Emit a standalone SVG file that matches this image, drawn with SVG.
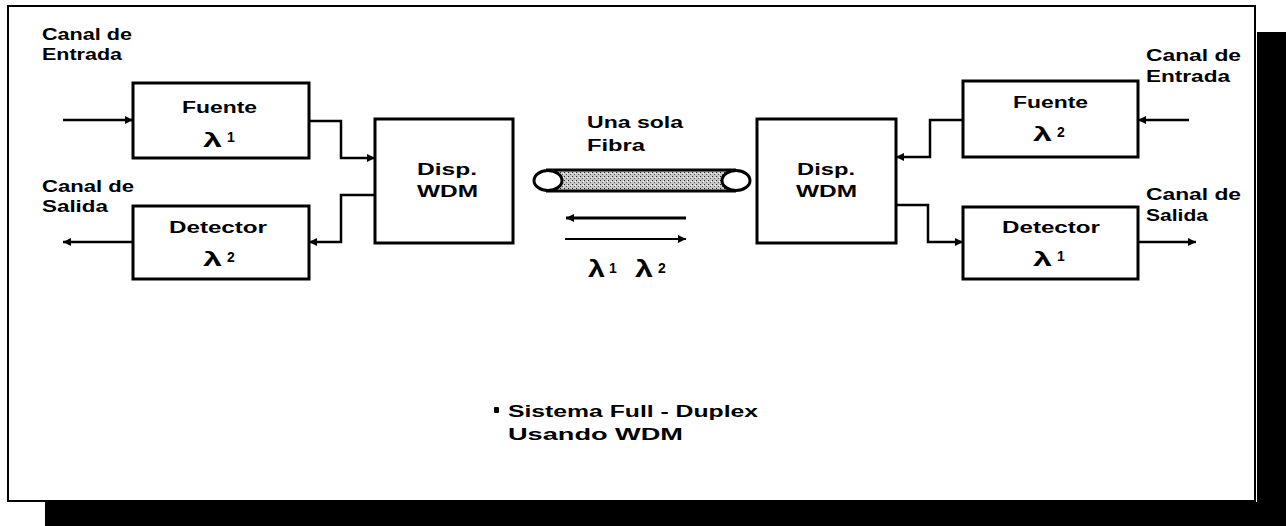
<svg xmlns="http://www.w3.org/2000/svg" width="1286" height="526" viewBox="0 0 1286 526">
<style>
.t{font-family:"Liberation Sans",Arial,sans-serif;font-weight:bold;font-size:16px;fill:#000}
.l{font-family:"Liberation Sans",Arial,sans-serif;font-weight:bold;font-size:20px;fill:#000}
.lb{font-family:"Liberation Sans",Arial,sans-serif;font-weight:bold;font-size:23px;fill:#000}
.d{font-family:"Liberation Sans",Arial,sans-serif;font-weight:bold;font-size:14px;fill:#000}
.box{fill:#fff;stroke:#000;stroke-width:3}
.c{fill:none;stroke:#000;stroke-width:2.5}
</style>
<defs>
<marker id="ah" viewBox="0 0 10 10" refX="10" refY="5" markerWidth="9" markerHeight="8" markerUnits="userSpaceOnUse" orient="auto">
<path d="M0,0 L10,5 L0,10 z" fill="#000"/>
</marker>
<pattern id="stip" width="4" height="4" patternUnits="userSpaceOnUse">
<rect width="4" height="4" fill="#c8c8c8"/>
<rect x="0" y="0" width="1" height="1" fill="#222"/>
<rect x="2" y="2" width="1" height="1" fill="#555"/>
<rect x="3" y="1" width="1" height="1" fill="#fff"/>
</pattern>
</defs>
<rect width="1286" height="526" fill="#fff"/>
<path d="M1257,32 H1286 V526 H45 V502 H1257 Z" fill="#000"/>
<rect x="8" y="6" width="1247" height="495" fill="#fff" stroke="#000" stroke-width="2"/>

<g id="labels">
<text class="t" x="42" y="40" textLength="90" lengthAdjust="spacingAndGlyphs">Canal de</text>
<text class="t" x="42" y="60" textLength="80" lengthAdjust="spacingAndGlyphs">Entrada</text>
<text class="t" x="42" y="192" textLength="92" lengthAdjust="spacingAndGlyphs">Canal de</text>
<text class="t" x="42" y="212" textLength="66" lengthAdjust="spacingAndGlyphs">Salida</text>
<text class="t" x="1146" y="61" textLength="95" lengthAdjust="spacingAndGlyphs">Canal de</text>
<text class="t" x="1146" y="82" textLength="84" lengthAdjust="spacingAndGlyphs">Entrada</text>
<text class="t" x="1146" y="200" textLength="95" lengthAdjust="spacingAndGlyphs">Canal de</text>
<text class="t" x="1146" y="221" textLength="62" lengthAdjust="spacingAndGlyphs">Salida</text>
<text class="t" x="587" y="128" textLength="96" lengthAdjust="spacingAndGlyphs">Una sola</text>
<text class="t" x="587" y="151" textLength="58" lengthAdjust="spacingAndGlyphs">Fibra</text>
<text class="lb" x="588" y="277" textLength="17" lengthAdjust="spacingAndGlyphs">λ</text><text class="d" x="609" y="273">1</text>
<text class="lb" x="635" y="277" textLength="18" lengthAdjust="spacingAndGlyphs">λ</text><text class="d" x="658" y="273">2</text>
<rect x="494" y="407" width="5" height="6" rx="1" fill="#000"/>
<text class="t" x="508" y="417" textLength="250" lengthAdjust="spacingAndGlyphs">Sistema Full - Duplex</text>
<text class="t" x="508" y="440" textLength="175" lengthAdjust="spacingAndGlyphs">Usando WDM</text>
</g>

<g id="fuente1">
<rect class="box" x="133" y="83" width="176" height="75"/>
<text class="t" x="182" y="113" textLength="75" lengthAdjust="spacingAndGlyphs">Fuente</text>
<text class="l" x="203" y="147" textLength="19" lengthAdjust="spacingAndGlyphs">λ</text><text class="d" x="227" y="142">1</text>
</g>
<g id="detector2">
<rect class="box" x="133" y="206" width="176" height="73"/>
<text class="t" x="169" y="233" textLength="98" lengthAdjust="spacingAndGlyphs">Detector</text>
<text class="l" x="203" y="266" textLength="19" lengthAdjust="spacingAndGlyphs">λ</text><text class="d" x="227" y="262">2</text>
</g>
<g id="wdm-left">
<rect class="box" x="375" y="119" width="138" height="124"/>
<text class="t" x="417" y="175" textLength="60" lengthAdjust="spacingAndGlyphs">Disp.</text>
<text class="t" x="417" y="197" textLength="61" lengthAdjust="spacingAndGlyphs">WDM</text>
</g>
<g id="fibra">
<rect x="546" y="170" width="190" height="21" fill="url(#stip)"/>
<line x1="546" y1="170" x2="736" y2="170" stroke="#000" stroke-width="3"/>
<line x1="546" y1="191" x2="736" y2="191" stroke="#000" stroke-width="3"/>
<ellipse cx="548" cy="180.5" rx="14" ry="10" fill="#fff" stroke="#000" stroke-width="3"/>
<ellipse cx="736" cy="180.5" rx="14" ry="10" fill="#fff" stroke="#000" stroke-width="3"/>
</g>
<g id="wdm-right">
<rect class="box" x="757" y="119" width="139" height="124"/>
<text class="t" x="797" y="175" textLength="58" lengthAdjust="spacingAndGlyphs">Disp.</text>
<text class="t" x="796" y="197" textLength="61" lengthAdjust="spacingAndGlyphs">WDM</text>
</g>
<g id="fuente2">
<rect class="box" x="963" y="81" width="175" height="76"/>
<text class="t" x="1013" y="108" textLength="75" lengthAdjust="spacingAndGlyphs">Fuente</text>
<text class="l" x="1033" y="141" textLength="19" lengthAdjust="spacingAndGlyphs">λ</text><text class="d" x="1057" y="137">2</text>
</g>
<g id="detector1">
<rect class="box" x="963" y="207" width="175" height="72"/>
<text class="t" x="1002" y="233" textLength="98" lengthAdjust="spacingAndGlyphs">Detector</text>
<text class="l" x="1033" y="266" textLength="19" lengthAdjust="spacingAndGlyphs">λ</text><text class="d" x="1057" y="261">1</text>
</g>

<g id="connectors">
<line class="c" x1="63" y1="120" x2="133" y2="120" marker-end="url(#ah)"/>
<polyline class="c" points="309,121 341,121 341,158 375,158" marker-end="url(#ah)"/>
<polyline class="c" points="375,195 341,195 341,242 309,242" marker-end="url(#ah)"/>
<line class="c" x1="133" y1="242" x2="63" y2="242" marker-end="url(#ah)"/>
<line class="c" x1="1189" y1="120" x2="1138" y2="120" marker-end="url(#ah)"/>
<polyline class="c" points="963,120 930,120 930,157 896,157" marker-end="url(#ah)"/>
<polyline class="c" points="896,205 928,205 928,242 963,242" marker-end="url(#ah)"/>
<line class="c" x1="1138" y1="242" x2="1196" y2="242" marker-end="url(#ah)"/>
<line x1="686" y1="218" x2="566" y2="218" stroke="#000" stroke-width="3" marker-end="url(#ah)"/>
<line x1="565" y1="239" x2="686" y2="239" stroke="#000" stroke-width="2" marker-end="url(#ah)"/>
</g>
</svg>
